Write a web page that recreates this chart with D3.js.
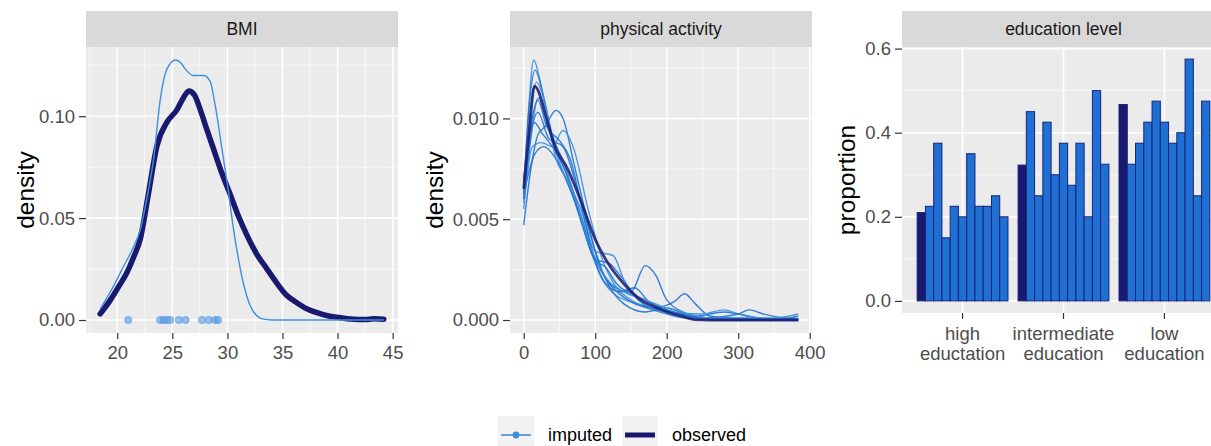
<!DOCTYPE html>
<html>
<head>
<meta charset="utf-8">
<script src="https://cdn.jsdelivr.net/npm/d3@7"></script>
<style>
  html, body { margin: 0; padding: 0; background: #fff; overflow: hidden; }
  svg { display: block; }
</style>
</head>
<body>
<div id="chart"></div>
<script>
// ---- Data ----
// BMI densities: [bmi, density]
const bmiObserved = [
  [18.45, 0.003], [19.4, 0.010], [20.2, 0.017], [20.9, 0.0235], [21.5, 0.031], [22.1, 0.040],
  [22.85, 0.0626], [23.6, 0.0854], [24.5, 0.097], [25.4, 0.103], [26.0, 0.109], [26.5, 0.1124],
  [27.0, 0.1105], [27.55, 0.103], [28.1, 0.094], [28.75, 0.0838], [29.5, 0.072], [30.3, 0.061],
  [31.0, 0.051], [31.8, 0.0413], [32.7, 0.032], [33.6, 0.025], [34.5, 0.018], [35.4, 0.012],
  [36.3, 0.0085], [37.25, 0.0054], [38.2, 0.0035], [39.1, 0.0021], [40.2, 0.0012], [41.2, 0.0005],
  [42.5, 0.0002], [43.3, 0.0006], [44.2, 0.0004]
];
const bmiImputed = [
  [18.45, 0.0054], [19.5, 0.015], [20.6, 0.0266], [21.4, 0.035], [22.1, 0.0446], [22.7, 0.060],
  [23.3, 0.079], [23.9, 0.108], [24.5, 0.123], [25.3, 0.1276], [25.8, 0.126], [26.2, 0.123],
  [26.9, 0.120], [27.85, 0.120], [28.45, 0.117], [28.8, 0.108], [29.06, 0.100], [29.5, 0.084],
  [29.97, 0.0675], [30.6, 0.043], [31.0, 0.030], [31.5, 0.0168], [32.0, 0.008], [32.4, 0.0038],
  [32.9, 0.0012], [33.3, 0.0004], [34.0, 0], [44.2, 0]
];
const bmiImputedValues = [21.0, 23.9, 24.2, 24.5, 24.8, 25.6, 26.2, 27.7, 28.3, 28.9, 29.15];

// physical activity densities: [minutes, density]
const paObserved = [
  [0, 0.0065], [8, 0.0095], [15, 0.0116], [20, 0.0114], [30, 0.0102], [45, 0.0085], [60, 0.0076],
  [80, 0.0059], [100, 0.0040], [120, 0.0027], [140, 0.0018], [160, 0.0011], [190, 0.00055],
  [220, 0.0002], [240, 0.00002], [260, 0], [384, 0]
];
const paImputed = [
  [[0, 0.0060], [7, 0.0105], [14, 0.0129], [22, 0.0120], [35, 0.0095], [50, 0.0078], [70, 0.0060], [90, 0.0038], [110, 0.0020], [130, 0.0012], [160, 0.0008], [190, 0.0005], [220, 0.0003], [260, 0.0001], [320, 0.00005], [384, 0.00005]],
  [[0, 0.0065], [8, 0.0108], [16, 0.0124], [25, 0.0115], [40, 0.0090], [60, 0.0072], [80, 0.0050], [100, 0.0030], [120, 0.0028], [135, 0.0022], [160, 0.0010], [200, 0.0003], [240, 0.00005], [300, 0], [384, 0]],
  [[0, 0.0047], [10, 0.0075], [20, 0.0092], [30, 0.0096], [45, 0.0104], [55, 0.0100], [70, 0.0078], [90, 0.0048], [105, 0.0028], [120, 0.0018], [150, 0.0013], [170, 0.0010], [200, 0.0005], [240, 0.0002], [280, 0.0004], [300, 0.0003], [340, 0.00005], [384, 0]],
  [[0, 0.0055], [12, 0.0086], [25, 0.0088], [40, 0.0086], [55, 0.0094], [70, 0.0085], [90, 0.0055], [110, 0.0030], [130, 0.0016], [150, 0.0010], [180, 0.0005], [220, 0.0002], [260, 0], [384, 0]],
  [[0, 0.0062], [15, 0.0082], [28, 0.0086], [45, 0.0080], [65, 0.0065], [85, 0.0045], [100, 0.0030], [115, 0.0026], [130, 0.0018], [150, 0.0014], [170, 0.0027], [185, 0.0022], [200, 0.0010], [230, 0.0003], [260, 0.0001], [384, 0.00005]],
  [[0, 0.0070], [8, 0.0092], [15, 0.0098], [25, 0.0093], [40, 0.0086], [60, 0.0073], [80, 0.0052], [100, 0.0030], [120, 0.0018], [150, 0.0009], [180, 0.0006], [210, 0.0009], [225, 0.0013], [240, 0.0008], [260, 0.0002], [290, 0.0001], [384, 0.00005]],
  [[0, 0.0058], [10, 0.0090], [20, 0.0110], [30, 0.0105], [45, 0.0080], [60, 0.0070], [80, 0.0055], [100, 0.0034], [125, 0.0032], [140, 0.0020], [165, 0.0009], [200, 0.0004], [250, 0.0003], [280, 0.0005], [300, 0.0003], [330, 0.0001], [384, 0.00005]],
  [[0, 0.0063], [10, 0.0096], [20, 0.0109], [32, 0.0096], [50, 0.0089], [65, 0.0080], [85, 0.0050], [100, 0.0029], [115, 0.0018], [135, 0.0014], [155, 0.0016], [175, 0.0009], [210, 0.0004], [250, 0.0001], [300, 0.0003], [315, 0.0005], [335, 0.0003], [370, 0.0001], [384, 0.0002]],
  [[0, 0.0060], [10, 0.0092], [20, 0.0103], [35, 0.0090], [55, 0.0086], [75, 0.0065], [95, 0.0040], [115, 0.0020], [140, 0.0008], [170, 0.0004], [200, 0.0006], [230, 0.0002], [270, 0], [384, 0]],
  [[0, 0.0068], [8, 0.0100], [18, 0.0118], [28, 0.0110], [40, 0.0092], [55, 0.0079], [75, 0.0057], [95, 0.0035], [115, 0.0021], [140, 0.0014], [170, 0.0010], [200, 0.0006], [230, 0.0003], [260, 0.0001], [350, 0.0001], [384, 0.0003]]
];

// education level proportions
const eduCategories = ['high', 'intermediate', 'low'];
const eduLabels = [['high', 'eductation'], ['intermediate', 'education'], ['low', 'education']];
const eduObserved = [0.21, 0.323, 0.467];
const eduImputed = [
  [0.225, 0.375, 0.15, 0.225, 0.2, 0.35, 0.225, 0.225, 0.25, 0.2],
  [0.45, 0.25, 0.425, 0.3, 0.375, 0.275, 0.375, 0.2, 0.5, 0.325],
  [0.325, 0.375, 0.425, 0.475, 0.425, 0.375, 0.4, 0.575, 0.25, 0.475]
];

const yTicksBmi = [0, 0.05, 0.10];
const xTicksBmi = [20, 25, 30, 35, 40, 45];
const yTicksPa = [0, 0.005, 0.010];
const xTicksPa = [0, 100, 200, 300, 400];
const yTicksEdu = [0, 0.2, 0.4, 0.6];
const legendLabels = ['imputed', 'observed'];

// ---- Style ----
const FONT = '"Liberation Sans", Arial, Helvetica, sans-serif';
const OBS = '#191970';
const IMP_LIGHT = '#3f8fdc';
const IMP = '#1f72d0';
const BAR_IMP = '#1f70d3';
const STRIP_TOP = 11;
const TICK_FS = 18.5;
const W = 1211, H = 446;

const svg = d3.select('#chart').append('svg')
  .attr('width', W).attr('height', H)
  .style('font-family', FONT);

function expand(lo, hi, m = 0.05) { const r = hi - lo; return [lo - r * m, hi + r * m]; }
function minorsOf(ticks) {
  const out = [];
  const step = ticks[1] - ticks[0];
  out.push(ticks[0] - step / 2);
  ticks.forEach(t => out.push(t + step / 2));
  return out;
}

function frame(box, label) {
  const g = svg.append('g');
  g.append('rect').attr('x', box.left).attr('y', box.top)
    .attr('width', box.right - box.left).attr('height', box.bottom - box.top).attr('fill', '#ebebeb');
  g.append('rect').attr('x', box.left).attr('y', STRIP_TOP)
    .attr('width', box.right - box.left).attr('height', box.top - STRIP_TOP).attr('fill', '#d9d9d9');
  g.append('text').attr('x', (box.left + box.right) / 2)
    .attr('y', (STRIP_TOP + box.top) / 2).attr('dy', '0.35em')
    .attr('text-anchor', 'middle').attr('font-size', 17.5).attr('fill', '#1a1a1a').text(label);
  return g;
}

function gridY(g, y, box, majors, minors) {
  const inside = v => y(v) >= box.top && y(v) <= box.bottom;
  g.selectAll(null).data(minors.filter(inside)).join('line')
    .attr('x1', box.left).attr('x2', box.right).attr('y1', d => y(d)).attr('y2', d => y(d))
    .attr('stroke', '#fff').attr('stroke-width', 0.8).attr('stroke-opacity', 0.8);
  g.selectAll(null).data(majors.filter(inside)).join('line')
    .attr('x1', box.left).attr('x2', box.right).attr('y1', d => y(d)).attr('y2', d => y(d))
    .attr('stroke', '#fff').attr('stroke-width', 1.6);
}
function gridX(g, x, box, majors, minors) {
  const inside = v => x(v) >= box.left && x(v) <= box.right;
  g.selectAll(null).data(minors.filter(inside)).join('line')
    .attr('y1', box.top).attr('y2', box.bottom).attr('x1', d => x(d)).attr('x2', d => x(d))
    .attr('stroke', '#fff').attr('stroke-width', 0.8).attr('stroke-opacity', 0.8);
  g.selectAll(null).data(majors.filter(inside)).join('line')
    .attr('y1', box.top).attr('y2', box.bottom).attr('x1', d => x(d)).attr('x2', d => x(d))
    .attr('stroke', '#fff').attr('stroke-width', 1.6);
}

function styleAxis(ax) {
  ax.attr('font-family', FONT).attr('font-size', TICK_FS);
  ax.select('.domain').remove();
  ax.selectAll('line').attr('stroke', '#333').attr('stroke-width', 1.2);
  ax.selectAll('text').attr('fill', '#4d4d4d');
}
function axisLeft(g, y, box, ticks, fmt) {
  const ax = g.append('g').attr('transform', `translate(${box.left},0)`)
    .call(d3.axisLeft(y).tickValues(ticks).tickFormat(fmt).tickSize(7).tickPadding(4));
  styleAxis(ax);
}
function axisBottom(g, x, box, ticks, fmt) {
  const ax = g.append('g').attr('transform', `translate(0,${box.bottom})`)
    .call(d3.axisBottom(x).tickValues(ticks).tickFormat(fmt).tickSize(6).tickPadding(7));
  styleAxis(ax);
}
function yTitle(g, xPos, yPos, text) {
  g.append('text').attr('transform', `translate(${xPos},${yPos}) rotate(-90)`)
    .attr('text-anchor', 'middle').attr('dy', '0.35em')
    .attr('font-size', 24.5).attr('fill', '#000').text(text);
}

const line = (x, y) => d3.line().x(d => x(d[0])).y(d => y(d[1])).curve(d3.curveMonotoneX);

// ---- Panel 1: BMI ----
{
  const box = { left: 86, right: 398, top: 47, bottom: 333 };
  const g = frame(box, 'BMI');
  const allX = bmiObserved.concat(bmiImputed).map(d => d[0]);
  const allY = bmiObserved.concat(bmiImputed).map(d => d[1]);
  const x = d3.scaleLinear().domain(expand(d3.min(allX), d3.max(allX))).range([box.left, box.right]);
  const y = d3.scaleLinear().domain(expand(0, d3.max(allY))).range([box.bottom, box.top]);
  gridY(g, y, box, yTicksBmi, minorsOf(yTicksBmi));
  gridX(g, x, box, xTicksBmi, minorsOf(xTicksBmi));
  g.append('path').datum(bmiObserved).attr('d', line(x, y)).attr('fill', 'none')
    .attr('stroke', OBS).attr('stroke-width', 5.5).attr('stroke-linejoin', 'round').attr('stroke-linecap', 'round');
  g.append('path').datum(bmiImputed).attr('d', line(x, y)).attr('fill', 'none')
    .attr('stroke', IMP_LIGHT).attr('stroke-width', 1.4);
  g.selectAll(null).data(bmiImputedValues).join('circle')
    .attr('cx', d => x(d)).attr('cy', y(0)).attr('r', 3.6)
    .attr('fill', '#5b9fe6').attr('fill-opacity', 0.65)
    .attr('stroke', '#4a90dc').attr('stroke-opacity', 0.7).attr('stroke-width', 0.8);
  axisLeft(g, y, box, yTicksBmi, d3.format('.2f'));
  axisBottom(g, x, box, xTicksBmi, d3.format('d'));
  yTitle(g, 25, (box.top + box.bottom) / 2, 'density');
}

// ---- Panel 2: physical activity ----
{
  const box = { left: 510, right: 812, top: 47, bottom: 333 };
  const g = frame(box, 'physical activity');
  const all = paImputed.flat().concat(paObserved);
  const x = d3.scaleLinear().domain(expand(d3.min(all, d => d[0]), d3.max(all, d => d[0]))).range([box.left, box.right]);
  const y = d3.scaleLinear().domain(expand(0, d3.max(all, d => d[1]))).range([box.bottom, box.top]);
  gridY(g, y, box, yTicksPa, minorsOf(yTicksPa));
  gridX(g, x, box, xTicksPa, minorsOf(xTicksPa));
  g.selectAll(null).data(paImputed).join('path').attr('d', line(x, y)).attr('fill', 'none')
    .attr('stroke', (d, i) => i % 3 === 0 ? IMP_LIGHT : IMP).attr('stroke-width', 1.4).attr('stroke-opacity', 0.9);
  g.append('path').datum(paObserved).attr('d', line(x, y)).attr('fill', 'none')
    .attr('stroke', OBS).attr('stroke-width', 2.8).attr('stroke-opacity', 0.85).attr('stroke-linejoin', 'round');
  axisLeft(g, y, box, yTicksPa, d3.format('.3f'));
  axisBottom(g, x, box, xTicksPa, d3.format('d'));
  yTitle(g, 434, (box.top + box.bottom) / 2, 'density');
}

// ---- Panel 3: education level ----
{
  const box = { left: 902, right: 1225, top: 47, bottom: 313 };
  const g = frame(box, 'education level');
  const allV = eduObserved.concat(eduImputed.flat());
  const y = d3.scaleLinear().domain(expand(0, d3.max(allV))).range([box.bottom, box.top]);
  const x = d3.scaleBand().domain(eduCategories).range([box.left, box.right])
    .paddingInner(0.1).paddingOuter(0.15);
  gridY(g, y, box, yTicksEdu, minorsOf(yTicksEdu));
  g.selectAll(null).data(eduCategories).join('line')
    .attr('y1', box.top).attr('y2', box.bottom)
    .attr('x1', d => x(d) + x.bandwidth() / 2).attr('x2', d => x(d) + x.bandwidth() / 2)
    .attr('stroke', '#fff').attr('stroke-width', 1.6);
  const inner = d3.scaleBand().domain(d3.range(11)).range([0, x.bandwidth()]);
  const bars = eduCategories.flatMap((c, ci) =>
    [{ c, k: 0, v: eduObserved[ci], obs: true }]
      .concat(eduImputed[ci].map((v, i) => ({ c, k: i + 1, v, obs: false }))));
  g.selectAll(null).data(bars).join('rect')
    .attr('x', d => x(d.c) + inner(d.k)).attr('width', inner.bandwidth())
    .attr('y', d => y(d.v)).attr('height', d => y(0) - y(d.v))
    .attr('fill', d => d.obs ? OBS : BAR_IMP)
    .attr('stroke', '#1a237a').attr('stroke-width', 1);
  axisLeft(g, y, box, yTicksEdu, d3.format('.1f'));
  const ax = g.append('g').attr('transform', `translate(0,${box.bottom})`)
    .call(d3.axisBottom(x).tickSize(6).tickFormat(''));
  styleAxis(ax);
  ax.selectAll('.tick text').remove();
  eduCategories.forEach((c, i) => {
    const t = g.append('text').attr('x', x(c) + x.bandwidth() / 2).attr('y', box.bottom + 27)
      .attr('text-anchor', 'middle').attr('font-size', TICK_FS).attr('fill', '#4d4d4d');
    eduLabels[i].forEach((s, j) => t.append('tspan').attr('x', x(c) + x.bandwidth() / 2).attr('dy', j ? 19.5 : 0).text(s));
  });
  yTitle(g, 846, (box.top + box.bottom) / 2, 'proportion');
}

// ---- Legend ----
{
  const g = svg.append('g');
  const keys = [{ x: 498, tx: 548 }, { x: 622, tx: 672 }];
  const ky = 416, ks = 36;
  keys.forEach((k, i) => {
    g.append('rect').attr('x', k.x).attr('y', ky).attr('width', ks).attr('height', ks).attr('fill', '#f2f2f2');
    const cy = ky + 19;
    if (i === 0) {
      g.append('line').attr('x1', k.x + 3).attr('x2', k.x + ks - 3).attr('y1', cy).attr('y2', cy)
        .attr('stroke', IMP_LIGHT).attr('stroke-width', 1.6);
      g.append('circle').attr('cx', k.x + ks / 2).attr('cy', cy).attr('r', 3.4).attr('fill', IMP_LIGHT);
    } else {
      g.append('line').attr('x1', k.x + 3).attr('x2', k.x + ks - 3).attr('y1', cy).attr('y2', cy)
        .attr('stroke', OBS).attr('stroke-width', 5);
    }
    g.append('text').attr('x', k.tx).attr('y', cy).attr('dy', '0.35em')
      .attr('font-size', 18).attr('fill', '#000').text(legendLabels[i]);
  });
}
</script>
</body>
</html>
